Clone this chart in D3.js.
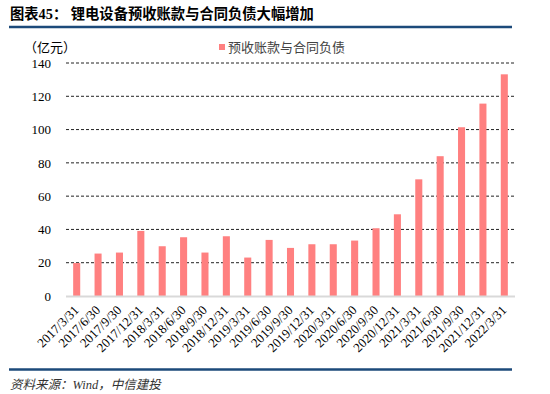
<!DOCTYPE html>
<html>
<head>
<meta charset="utf-8">
<script src="https://cdn.jsdelivr.net/npm/d3@7"></script>
<style>
  body { margin: 0; background: #fff; }
  svg { display: block; }
</style>
</head>
<body>
<div id="chart"></div>
<script>
// data (亿元)
const dates = ["2017/3/31", "2017/6/30", "2017/9/30", "2017/12/31", "2018/3/31", "2018/6/30",
    "2018/9/30", "2018/12/31", "2019/3/31", "2019/6/30", "2019/9/30", "2019/12/31",
    "2020/3/31", "2020/6/30", "2020/9/30", "2020/12/31", "2021/3/31", "2021/6/30",
    "2021/9/30", "2021/12/31", "2022/3/31"];
const values = [19.8, 25.5, 26.1, 39.1, 29.9, 35.3, 26.1, 35.9, 23.1, 33.7, 28.9, 31.1,
    31.1, 33.3, 40.7, 49.1, 70.1, 84.0, 101.4, 115.6, 133.2];
const yTicks = [0, 20, 40, 60, 80, 100, 120, 140];

const serif = "'Liberation Serif', 'Noto Sans CJK SC', serif";
const cjk = "'Liberation Serif', 'Noto Sans CJK SC', sans-serif";
const barColor = "#ff8080";
const blue = "#1c4a7a";

const W = 550, H = 394;
var margin = { top: 63, right: 35, bottom: 98, left: 66 },
    width = W - margin.left - margin.right,
    height = H - margin.top - margin.bottom;

var root = d3.select("#chart").append("svg")
    .attr("width", W)
    .attr("height", H);

// title + rules
root.append("text")
    .attr("x", 10).attr("y", 19)
    .style("font-family", cjk)
    .style("font-weight", "bold")
    .style("font-size", "14.3px")
    .text("图表45：  锂电设备预收账款与合同负债大幅增加");

root.append("line")
    .attr("x1", 9).attr("x2", 512)
    .attr("y1", 27).attr("y2", 27)
    .attr("stroke", blue).attr("stroke-width", 2.5);

root.append("line")
    .attr("x1", 9).attr("x2", 512)
    .attr("y1", 369.5).attr("y2", 369.5)
    .attr("stroke", blue).attr("stroke-width", 2.5);

root.append("text")
    .attr("x", 10).attr("y", 389)
    .style("font-family", cjk)
    .style("font-style", "italic")
    .style("font-size", "12.5px")
    .style("fill", "#333")
    .text("资料来源：Wind，中信建投");

var svg = root.append("g")
    .attr("transform", "translate(" + margin.left + "," + margin.top + ")");

var x = d3.scaleBand()
    .domain(dates)
    .range([0, width])
    .paddingInner(0.67)
    .paddingOuter(0.335);

var y = d3.scaleLinear()
    .domain([0, 140])
    .range([height, 0]);

// gridlines
svg.append("g")
    .selectAll("line")
    .data(yTicks.filter(d => d > 0))
    .join("line")
    .attr("x1", 0).attr("x2", width)
    .attr("y1", d => y(d)).attr("y2", d => y(d))
    .attr("stroke", "#222")
    .attr("stroke-width", 1)
    .attr("stroke-dasharray", "3,2");

// y axis labels
svg.append("g")
    .call(d3.axisLeft(y).tickValues(yTicks).tickSize(0).tickPadding(15))
    .call(g => g.select(".domain").remove())
    .selectAll("text")
    .style("font-family", serif)
    .style("font-size", "13px")
    .style("fill", "#000");

// bars
svg.append("g")
    .selectAll("rect")
    .data(values)
    .join("rect")
    .attr("x", (d, i) => x(dates[i]))
    .attr("y", d => y(d))
    .attr("width", x.bandwidth())
    .attr("height", d => height - y(d))
    .attr("fill", barColor);

// baseline
svg.append("line")
    .attr("x1", 0).attr("x2", width)
    .attr("y1", height + 0.5).attr("y2", height + 0.5)
    .attr("stroke", "#d9d9d9")
    .attr("stroke-width", 2);

// x axis labels
svg.append("g")
    .attr("transform", "translate(0," + height + ")")
    .call(d3.axisBottom(x).tickSize(0).tickPadding(0))
    .call(g => g.select(".domain").remove())
    .selectAll("text")
    .attr("text-anchor", "end")
    .attr("dy", 0)
    .attr("transform", "translate(3,15) rotate(-45)")
    .style("font-family", serif)
    .style("font-size", "13px")
    .style("fill", "#000");

// unit
root.append("text")
    .attr("x", 24).attr("y", 52)
    .style("font-family", cjk)
    .style("font-size", "13px")
    .text("（亿元）");

// legend
root.append("rect")
    .attr("x", 219).attr("y", 44)
    .attr("width", 6).attr("height", 6)
    .attr("fill", barColor);

root.append("text")
    .attr("x", 228).attr("y", 52)
    .style("font-family", cjk)
    .style("font-size", "13px")
    .style("fill", "#444")
    .text("预收账款与合同负债");
</script>
</body>
</html>
